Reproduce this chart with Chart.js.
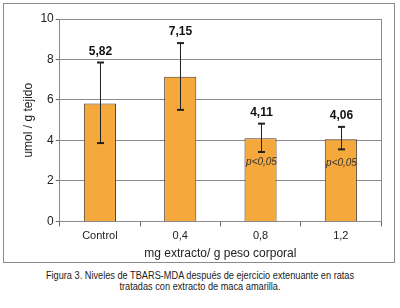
<!DOCTYPE html>
<html><head><meta charset="utf-8">
<script src="https://cdn.jsdelivr.net/npm/chart.js@4/dist/chart.umd.min.js"></script>
<style>
html,body{margin:0;padding:0;background:#fff;width:400px;height:308px;overflow:hidden;}
#box{position:absolute;left:3px;top:3px;width:390px;height:258px;border:1px solid #8a8a8a;}
#box canvas{display:block;}
#cap{position:absolute;left:0;top:270px;width:400px;text-align:center;font-family:"Liberation Sans",Arial,sans-serif;font-size:11.5px;line-height:11px;color:#222;}
#cap div{transform:scaleX(0.8);transform-origin:center;white-space:nowrap;height:11px;}
</style></head>
<body>
<div id="box"><canvas id="c" width="390" height="258"></canvas></div>
<div id="cap"><div>Figura 3. Niveles de TBARS-MDA después de ejercicio extenuante en ratas</div><div>tratadas con extracto de maca amarilla.</div></div>
<script>
const categories = ["Control", "0,4", "0,8", "1,2"];
const values = [5.82, 7.15, 4.11, 4.06];
const valueLabels = ["5,82", "7,15", "4,11", "4,06"];
const errUpper = [2.03, 1.66, 0.72, 0.61];
const errLower = [1.95, 1.64, 0.68, 0.50];
const sigLabels = ["", "", "p<0,05", "p<0,05"];
const yTicks = [0, 2, 4, 6, 8, 10];

const annot = {
  id: 'annot',
  afterDatasetsDraw(chart) {
    const ctx = chart.ctx, xs = chart.scales.x, ys = chart.scales.y, a = chart.chartArea;
    ctx.save();
    ctx.strokeStyle = '#8a8a8a'; ctx.lineWidth = 1;
    ctx.beginPath(); ctx.moveTo(Math.round(a.right)+0.5, a.top); ctx.lineTo(Math.round(a.right)+0.5, a.bottom); ctx.stroke();
    values.forEach((v, i) => {
      const x = Math.round(xs.getPixelForValue(i)) + 0.5;
      const yt = ys.getPixelForValue(v + errUpper[i]);
      const yb = ys.getPixelForValue(v - errLower[i]);
      ctx.strokeStyle = '#222'; ctx.lineWidth = 1;
      ctx.beginPath(); ctx.moveTo(x, yt); ctx.lineTo(x, yb); ctx.stroke();
      ctx.lineWidth = 2;
      ctx.beginPath(); ctx.moveTo(x-3.5, yt); ctx.lineTo(x+3.5, yt); ctx.stroke();
      ctx.beginPath(); ctx.moveTo(x-3.5, yb); ctx.lineTo(x+3.5, yb); ctx.stroke();
      ctx.fillStyle = '#111';
      ctx.font = 'bold 12px "Liberation Sans", Arial, sans-serif';
      ctx.textAlign = 'center'; ctx.textBaseline = 'middle';
      ctx.fillText(valueLabels[i], x, yt - 11);
      if (sigLabels[i]) {
        ctx.font = 'italic 10px "Liberation Sans", Arial, sans-serif';
        ctx.fillStyle = '#333';
        ctx.fillText(sigLabels[i], x, ys.getPixelForValue(v) + 24);
      }
    });
    ctx.restore();
  }
};

new Chart(document.getElementById('c'), {
  type: 'bar',
  data: {
    labels: categories,
    datasets: [{
      data: values,
      backgroundColor: '#F5A83B',
      borderColor: '#4a3b2a',
      borderWidth: 1,
      barPercentage: 0.4,
      categoryPercentage: 1
    }]
  },
  options: {
    responsive: false,
    animation: false,
    devicePixelRatio: 1,
    layout: { padding: { left: 17, right: 13, top: 15, bottom: 1 } },
    plugins: { legend: { display: false }, tooltip: { enabled: false } },
    scales: {
      x: {
        grid: { offset: true, drawOnChartArea: false, drawTicks: true, tickLength: 5, color: '#666' },
        border: { color: '#8a8a8a' },
        ticks: { color: '#222', font: { family: '"Liberation Sans", Arial, sans-serif', size: 11 }, padding: 3 },
        title: { display: true, text: 'mg extracto/ g peso corporal', color: '#222', font: { family: '"Liberation Sans", Arial, sans-serif', size: 12 }, padding: { top: 1, bottom: 0 } }
      },
      y: {
        min: 0, max: 10,
        afterBuildTicks(scale) { scale.ticks = yTicks.map(v => ({ value: v })); },
        grid: { color: '#8a8a8a', tickLength: 4, tickColor: '#666' },
        border: { color: '#8a8a8a' },
        ticks: { color: '#222', font: { family: '"Liberation Sans", Arial, sans-serif', size: 12 }, padding: 2 },
        title: { display: true, text: 'umol / g tejido', color: '#222', font: { family: '"Liberation Sans", Arial, sans-serif', size: 12 }, padding: { top: 0, bottom: 3 } }
      }
    }
  },
  plugins: [annot]
});
</script>
</body></html>
